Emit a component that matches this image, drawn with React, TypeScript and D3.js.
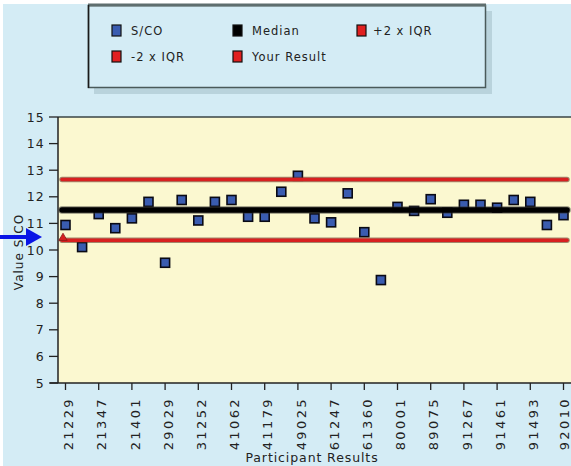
import React from "react";
import * as d3 from "d3";

const values: number[] = [
  10.94, 10.11, 11.35, 10.82, 11.19, 11.81, 9.52, 11.88, 11.11, 11.81,
  11.88, 11.25, 11.25, 12.19, 12.79, 11.19, 11.04, 12.13, 10.67, 8.87,
  11.62, 11.47, 11.91, 11.4, 11.7, 11.7, 11.59, 11.88, 11.81, 10.94, 11.31,
];
const tickLabels: string[] = [
  "21229", "21347", "21401", "29029", "31252", "41062", "41179", "49025",
  "61247", "61360", "80001", "89075", "91267", "91461", "91493", "92010",
];
const yTicks: number[] = [5, 6, 7, 8, 9, 10, 11, 12, 13, 14, 15];
const median = 11.5;
const plus2IQR = 12.65;
const minus2IQR = 10.37;
const yourResult = 10.45;

const legendItems = [
  { label: "S/CO", color: "#3a5cb0", col: 0, row: 0 },
  { label: "Median", color: "#000000", col: 1, row: 0 },
  { label: "+2 x IQR", color: "#e02020", col: 2, row: 0 },
  { label: "-2 x IQR", color: "#e02020", col: 0, row: 1 },
  { label: "Your Result", color: "#e02020", col: 1, row: 1 },
];

export default function App() {
  const W = 571, H = 466;
  const plotL = 58, plotT = 117, plotB = 383, plotR = 580;
  const y = d3.scaleLinear().domain([5, 15]).range([plotB, plotT]);
  const x = d3.scaleLinear().domain([0, values.length - 1]).range([65.5, 563.5]);
  const lineX1 = 62, lineX2 = 567;
  const font = "'DejaVu Sans', Verdana, sans-serif";
  const legendColX = [112, 233, 357];
  const legendTextX = [131, 252, 373];
  const legendRowY = [25, 51];

  const hLine = (v: number, color: string, width: number, outline: string) => (
    <g>
      <line x1={lineX1} x2={lineX2} y1={y(v)} y2={y(v)} stroke={outline} strokeWidth={width + 2} strokeOpacity={0.55} strokeLinecap="round" />
      <line x1={lineX1} x2={lineX2} y1={y(v)} y2={y(v)} stroke={color} strokeWidth={width} strokeLinecap="round" />
    </g>
  );

  return (
    <svg width={W} height={H} style={{ position: "absolute", left: 0, top: 0, background: "#ffffff" }} fontFamily={font}>
      <rect x={3} y={4} width={W} height={H} fill="#d4ecf5" />
      {/* legend */}
      <rect x={94} y={11} width={398} height={83} fill="#b9d3dc" />
      <rect x={88.5} y={5.5} width={397} height={82} fill="#d4ecf5" stroke="#4a5a5a" strokeWidth={1.5} />
      <line x1={88} x2={486} y1={5} y2={5} stroke="#5e6e6e" strokeWidth={3} />
      <line x1={88.5} x2={88.5} y1={5} y2={88} stroke="#1a1a1a" strokeWidth={1.5} />
      {legendItems.map((it) => (
        <g key={it.label}>
          <rect x={legendColX[it.col]} y={legendRowY[it.row]} width={9} height={11} fill={it.color} stroke="#111" strokeWidth={1.2} />
          <text x={legendTextX[it.col]} y={legendRowY[it.row] + 10} fontSize={11.5} letterSpacing={1} fill="#222">{it.label}</text>
        </g>
      ))}
      {/* plot */}
      <rect x={plotL} y={plotT} width={plotR - plotL} height={plotB - plotT} fill="#fbf8d0" />
      <line x1={plotL} x2={plotR} y1={plotT} y2={plotT} stroke="#3a4444" strokeWidth={1.5} />
      <line x1={plotL} x2={plotL} y1={plotT} y2={plotB} stroke="#222" strokeWidth={1.5} />
      <line x1={50} x2={plotR} y1={plotB} y2={plotB} stroke="#222" strokeWidth={1.5} />
      {yTicks.map((t) => (
        <g key={t}>
          <line x1={49} x2={plotL} y1={y(t)} y2={y(t)} stroke="#222" strokeWidth={1.3} />
          <text x={45} y={y(t)} dy="0.36em" textAnchor="end" fontSize={12.5} letterSpacing={1.2} fill="#222">{t}</text>
        </g>
      ))}
      {tickLabels.map((lab, k) => {
        const tx = x(k * 2);
        const lx = Math.min(tx + 3, 564);
        return (
          <g key={lab}>
            <line x1={tx} x2={tx} y1={plotB} y2={plotB + 7} stroke="#222" strokeWidth={1.3} />
            <text transform={`translate(${lx},397) rotate(-90)`} dy="0.36em" textAnchor="end" fontSize={13} letterSpacing={2.4} fill="#222">{lab}</text>
          </g>
        );
      })}
      {/* points */}
      {values.map((v, i) => (
        <rect key={i} x={x(i) - 4.5} y={y(v) - 4.5} width={9} height={9} fill="#3a5cb0" stroke="#0a0a14" strokeWidth={1.6} />
      ))}
      {/* reference lines */}
      {hLine(plus2IQR, "#d82020", 3.5, "#5a2a1a")}
      {hLine(minus2IQR, "#d82020", 3.5, "#5a2a1a")}
      {hLine(median, "#000000", 5.5, "#333")}
      <path d={d3.symbol(d3.symbolTriangle, 30)() as string} transform={`translate(63,${y(yourResult)})`} fill="#d82020" stroke="#8a1a1a" strokeWidth={0.8} />
      {/* axis titles */}
      <text transform={`translate(19,252) rotate(-90)`} dy="0.36em" textAnchor="middle" fontSize={12} letterSpacing={1} fill="#222">Value S/CO</text>
      <text x={312} y={462} textAnchor="middle" fontSize={12.5} letterSpacing={0.9} fill="#222">Participant Results</text>
      {/* arrow */}
      <line x1={0} x2={30} y1={237} y2={237} stroke="#0a14e6" strokeWidth={4} />
      <path d="M26,228 L42,237 L26,246 Z" fill="#0a14e6" />
    </svg>
  );
}
